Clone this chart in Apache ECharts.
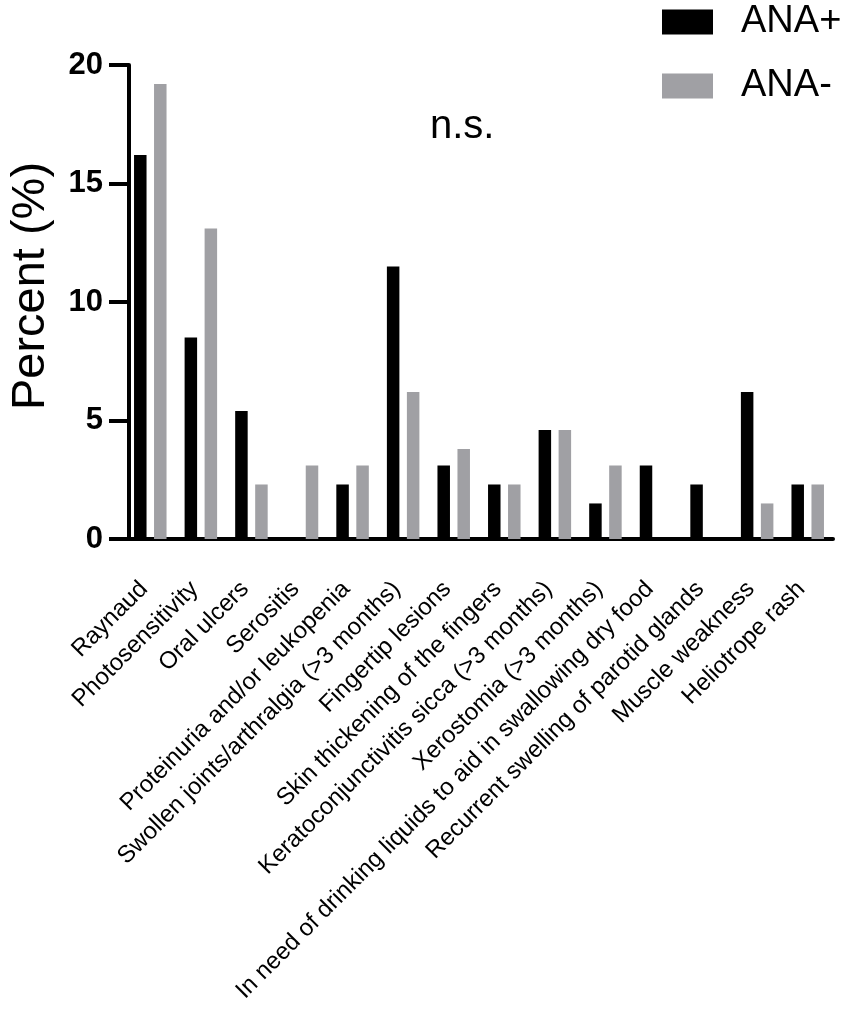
<!DOCTYPE html>
<html>
<head>
<meta charset="utf-8">
<script src="https://cdn.jsdelivr.net/npm/echarts@6/dist/echarts.min.js"></script>
<style>
  html, body { margin: 0; padding: 0; background: #fff; }
  #chart { width: 851px; height: 1011px; }
</style>
</head>
<body>
<div id="chart"></div>
<script>
// categories along the x axis
var categories = [
    'Raynaud',
    'Photosensitivity',
    'Oral ulcers',
    'Serositis',
    'Proteinuria and/or leukopenia',
    'Swollen joints/arthralgia (>3 months)',
    'Fingertip lesions',
    'Skin thickening of the fingers',
    'Keratoconjunctivitis sicca (>3 months)',
    'Xerostomia (>3 months)',
    'In need of drinking liquids to aid in swallowing dry food',
    'Recurrent swelling of parotid glands',
    'Muscle weakness',
    'Heliotrope rash'
];
// percent per group
var anaPos = [16.2, 8.5, 5.4, 0, 2.3, 11.5, 3.1, 2.3, 4.6, 1.5, 3.1, 2.3, 6.2, 2.3];
var anaNeg = [19.2, 13.1, 2.3, 3.1, 3.1, 6.2, 3.8, 2.3, 4.6, 3.1, 0, 0, 1.5, 2.3];
var seriesNames = ['ANA+', 'ANA-'];
var yTicks = [0, 5, 10, 15, 20];

var font = '"Liberation Sans", Arial, Helvetica, sans-serif';

var myChart = echarts.init(document.getElementById('chart'));

option = {
    backgroundColor: '#fff',
    animation: false,
    textStyle: { fontFamily: font, color: '#000' },
    grid: {
        left: 118,
        top: 65,
        width: 715,
        bottom: 472
    },
    legend: {
        orient: 'vertical',
        left: 662,
        top: 3,
        padding: 0,
        itemWidth: 51,
        itemHeight: 25,
        itemGap: 26,
        icon: 'rect',
        data: seriesNames,
        textStyle: {
            fontFamily: font,
            fontSize: 38,
            color: '#000',
            padding: [0, 0, 0, 23]
        }
    },
    graphic: [{
        type: 'text',
        left: 430,
        top: 107,
        style: {
            text: 'n.s.',
            fill: '#000',
            font: '40px ' + font
        }
    }],
    xAxis: {
        type: 'category',
        data: categories,
        axisLine: { lineStyle: { color: '#000', width: 4 } },
        axisTick: {
            alignWithLabel: true,
            length: 18,
            lineStyle: { color: '#000', width: 4 }
        },
        axisLabel: {
            rotate: 45,
            interval: 0,
            margin: 40,
            padding: [12, 9, 0, 0],
            fontSize: 24,
            color: '#000',
            fontFamily: font
        }
    },
    yAxis: {
        type: 'value',
        min: yTicks[0],
        max: yTicks[yTicks.length - 1],
        interval: 5,
        offset: -4,
        name: 'Percent (%)',
        nameLocation: 'middle',
        nameGap: 74,
        nameTextStyle: {
            fontSize: 47,
            color: '#000',
            fontFamily: font,
            padding: [0, 0, 0, 32]
        },
        splitLine: { show: false },
        axisLine: { show: true, lineStyle: { color: '#000', width: 4 } },
        axisTick: {
            show: true,
            length: 20,
            lineStyle: { color: '#000', width: 4 }
        },
        axisLabel: {
            margin: 26,
            fontSize: 31,
            fontWeight: 'bold',
            color: '#000',
            fontFamily: font
        }
    },
    series: [
        {
            name: seriesNames[0],
            type: 'bar',
            data: anaPos,
            barWidth: 12.5,
            barGap: '60%',
            itemStyle: { color: '#000' }
        },
        {
            name: seriesNames[1],
            type: 'bar',
            data: anaNeg,
            barWidth: 12.5,
            itemStyle: { color: '#a0a0a4' }
        }
    ]
};

myChart.setOption(option);
</script>
</body>
</html>
